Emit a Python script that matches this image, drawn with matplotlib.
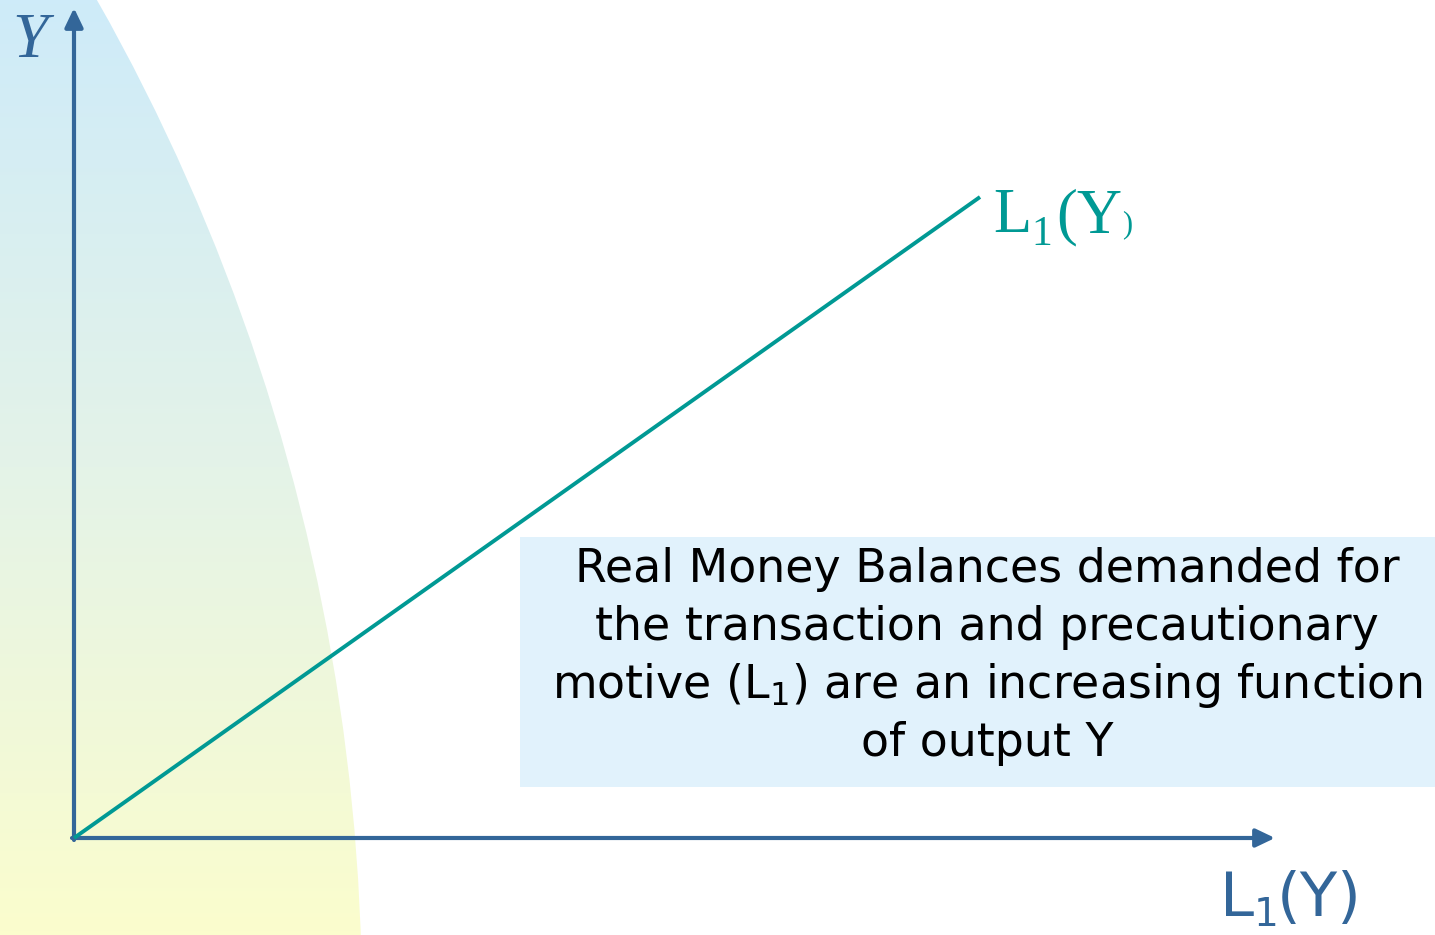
import numpy as np
import matplotlib
matplotlib.use("Agg")
import matplotlib.pyplot as plt
from matplotlib.patches import Circle, Rectangle
from matplotlib.colors import LinearSegmentedColormap

# demand line L1(Y): from the origin up to the labelled end
l1_vals = [0, 906]
y_vals = [0, 641]

axis_col = "#336699"
line_col = "#009994"
box_text = ["Real Money Balances demanded for",
            "the transaction and precautionary",
            r"motive (L$_1$) are an increasing function",
            "of output Y"]

fig = plt.figure(figsize=(14.35, 9.35), dpi=100)
ax = fig.add_axes([0, 0, 1, 1])
ax.set_xlim(-74, 1361)
ax.set_ylim(-97, 838)
ax.axis("off")

# shaded background on the left: part of a big circle, blue at top fading to yellow
shape = Circle((-1754, -168), 2042, facecolor="none", edgecolor="none")
ax.add_patch(shape)
cmap = LinearSegmentedColormap.from_list("bg", ["#ceebf9", "#e4f3e8", "#fbfdcd"])
grad = np.linspace(0, 1, 256).reshape(-1, 1)
im = ax.imshow(grad, cmap=cmap, extent=[-74, 300, -97, 838], origin="upper",
               aspect="auto", zorder=0)
im.set_clip_path(shape)

# axes arrows
arrow = dict(arrowstyle="-|>,head_length=1.15,head_width=0.55",
             color=axis_col, lw=3.0, shrinkA=0, shrinkB=0)
ax.annotate("", xy=(0, 830), xytext=(0, -2), arrowprops=arrow)
ax.annotate("", xy=(1201, 0), xytext=(-2, 0), arrowprops=arrow)

# L1(Y) line
ax.plot(l1_vals, y_vals, color=line_col, lw=2.8, solid_capstyle="butt", zorder=3)

# axis labels
ax.text(-44, 796, "Y", fontsize=46, family="Liberation Serif", style="italic",
        color=axis_col, ha="center", va="center")
ax.text(1146, -78, "L", fontsize=44, family="DejaVu Sans",
        color=axis_col, ha="left", va="baseline")
ax.text(1180, -96, "1", fontsize=28, family="DejaVu Sans",
        color=axis_col, ha="left", va="bottom")
ax.text(1203, -78, "(Y)", fontsize=44, family="DejaVu Sans",
        color=axis_col, ha="left", va="baseline")

# line end label (serif, small closing bracket)
base = 606
ax.text(919, base, "L", fontsize=45, family="Liberation Serif",
        color=line_col, ha="left", va="baseline")
ax.text(957, base - 13, "1", fontsize=30, family="Liberation Serif",
        color=line_col, ha="left", va="baseline")
ax.text(982, base, "(Y", fontsize=45, family="Liberation Serif",
        color=line_col, ha="left", va="baseline")
ax.text(1048, base, ")", fontsize=22, family="Liberation Serif",
        color=line_col, ha="left", va="baseline")

# explanation box
ax.add_patch(Rectangle((446, 51), 915, 250, facecolor="#e1f2fc",
                       edgecolor="none", zorder=1))
for i, line in enumerate(box_text):
    ax.text(913, 268 - i * 58, line, fontsize=33, family="DejaVu Sans",
            color="black", ha="center", va="center", zorder=2)

fig.savefig("out.png", dpi=100)
